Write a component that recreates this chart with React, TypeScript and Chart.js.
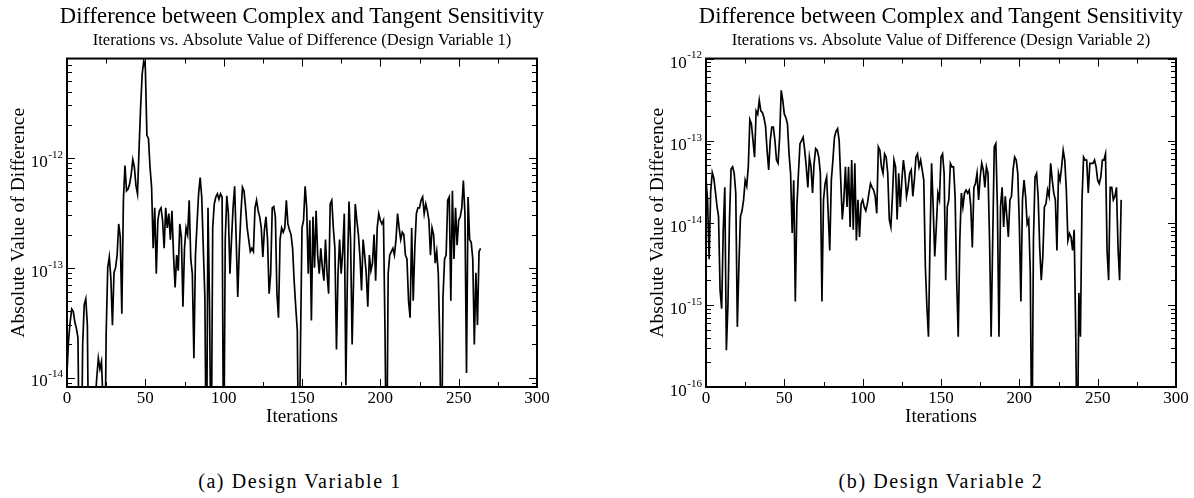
import React, { useEffect, useRef } from "react";
import { Chart, registerables } from "chart.js";

Chart.register(...registerables);

const TITLE = "Difference between Complex and Tangent Sensitivity";
const SUBTITLE_1 = "Iterations vs. Absolute Value of Difference (Design Variable 1)";
const SUBTITLE_2 = "Iterations vs. Absolute Value of Difference (Design Variable 2)";
const X_TITLE = "Iterations";
const Y_TITLE = "Absolute Value of Difference";
const CAPTION_1 = "(a) Design Variable 1";
const CAPTION_2 = "(b) Design Variable 2";

const xMajorTicks = [0, 50, 100, 150, 200, 250, 300];
const xMinorTicks = [25, 75, 125, 175, 225, 275];

const yDecades1 = [1e-14, 1e-13, 1e-12];
const yExponents1 = ["-14", "-13", "-12"];
const yRange1 = [8.2e-15, 8.0e-12];

const yDecades2 = [1e-16, 1e-15, 1e-14, 1e-13, 1e-12];
const yExponents2 = ["-16", "-15", "-14", "-13", "-12"];
const yRange2 = [1e-16, 1e-12];

// Design variable 1: |complex - tangent| per iteration
const dv1 = [
  1.1e-14, 2.2e-14, 3.2e-14, 4.2e-14, 4.0e-14, 3.2e-14, 2.8e-14, 2.3e-14, 1e-15, 1e-15,
  2.0e-14, 4.6e-14, 5.2e-14, 3.0e-14, 1e-15, 1e-15, 1e-15, 1e-15, 6e-15, 1.0e-14,
  1.5e-14, 1.2e-14, 1.4e-14, 6e-15, 1e-15, 2.5e-14, 1.0e-13, 1.25e-13, 8.0e-14, 3.0e-14,
  9.0e-14, 1.0e-13, 1.3e-13, 2.5e-13, 1.9e-13, 3.8e-14, 4.1e-13, 8.5e-13, 5.0e-13, 5.2e-13,
  5.8e-13, 7.1e-13, 9.6e-13, 8.2e-13, 5.6e-13, 4.7e-13, 1.2e-12, 2.9e-12, 5.8e-12, 7.6e-12,
  6.6e-12, 1.6e-12, 1.5e-12, 8.2e-13, 5.4e-13, 1.5e-13, 3.5e-13, 8.8e-14, 2.7e-13, 3.3e-13,
  3.5e-13, 2.7e-13, 1.5e-13, 3.5e-13, 2.3e-13, 3.1e-13, 1.8e-13, 3.3e-13, 1.3e-13, 6.6e-14,
  1.3e-13, 9.4e-14, 2.5e-13, 1.9e-13, 4.4e-14, 1.5e-13, 2.3e-13, 2.0e-13, 4.1e-13, 1.2e-13,
  8.8e-14, 1.5e-14, 1.3e-13, 2.5e-13, 4.7e-13, 6.6e-13, 4.4e-13, 1.5e-13, 5.4e-14, 1e-15,
  3.5e-13, 4.4e-14, 1e-15, 2.3e-13, 3.8e-13, 4.4e-13, 4.7e-13, 4.2e-13, 4.7e-13, 4.4e-13,
  1e-15, 1.8e-13, 4.5e-13, 3.1e-13, 8.8e-14, 1.8e-13, 3.5e-13, 5.5e-13, 1.8e-13, 5.4e-14,
  1.5e-13, 3.1e-13, 5.4e-13, 5.0e-13, 3.5e-13, 2.3e-13, 1.8e-13, 1.4e-13, 1.5e-13, 1.4e-13,
  3.5e-13, 4.1e-13, 3.3e-13, 2.9e-13, 2.3e-13, 1.25e-13, 2.2e-13, 2.9e-13, 1.8e-13, 5.8e-14,
  8.8e-14, 3.5e-13, 3.6e-13, 2.9e-13, 5.8e-14, 3.5e-14, 1.8e-13, 2.3e-13, 2.1e-13, 2.3e-13,
  4.1e-13, 2.5e-13, 2.2e-13, 2.0e-13, 1.5e-13, 7.5e-14, 4.4e-14, 2.7e-14, 1e-15, 1.8e-14,
  2.3e-13, 2.7e-13, 5.5e-13, 3.5e-13, 8.8e-14, 2.7e-13, 3.3e-14, 2.9e-13, 1.0e-13, 3.3e-13,
  1.3e-13, 8.8e-14, 1.5e-13, 1.0e-13, 7.6e-14, 1.8e-13, 8.8e-14, 5.8e-14, 3.8e-13, 4.1e-13,
  2.3e-13, 1.5e-13, 1.8e-14, 8.8e-14, 1.8e-13, 8.8e-14, 1.4e-13, 3.1e-13, 8.5e-15, 8.8e-14,
  4.0e-13, 1.8e-13, 2.0e-14, 8.8e-14, 3.8e-13, 2.7e-13, 2.0e-13, 1.25e-13, 6.2e-14, 1.8e-13,
  1.3e-13, 8.8e-14, 4.4e-14, 1.3e-13, 9.4e-14, 1.1e-13, 2.0e-13, 7.6e-14, 2.3e-13, 3.1e-13,
  2.7e-13, 2.5e-13, 2.7e-13, 2.5e-14, 1e-15, 8.8e-14, 1.3e-13, 1.4e-13, 1.5e-13, 1.3e-13,
  1.8e-13, 3.1e-13, 2.3e-13, 1.8e-13, 2.1e-13, 2.0e-13, 1.3e-13, 1.2e-13, 5.0e-14, 3.5e-14,
  2.3e-13, 5.0e-14, 1.5e-13, 3.1e-13, 3.5e-13, 3.5e-13, 4.1e-13, 4.4e-13, 3.1e-13, 3.8e-13,
  3.3e-13, 2.7e-13, 1.3e-13, 2.3e-13, 2.0e-13, 1.1e-13, 1.4e-13, 8.8e-14, 2.0e-14, 1e-15,
  5.4e-14, 1.2e-13, 1.3e-13, 4.1e-13, 4.4e-13, 5.0e-14, 5.0e-13, 1.2e-13, 3.5e-13, 1.6e-13,
  2.7e-13, 2.9e-13, 3.5e-13, 6.2e-13, 3.1e-13, 1.1e-14, 4.4e-13, 1.8e-13, 1.7e-13, 1.2e-13,
  2.0e-14, 9.0e-14, 3.0e-14, 1.4e-13, 1.5e-13,
];

// Design variable 2: |complex - tangent| per iteration
const dv2 = [
  3.4e-14, 1.9e-14, 3.6e-15, 2.4e-14, 4.1e-14, 3.5e-14, 2.4e-14, 1.6e-14, 1.2e-14, 1.5e-15,
  9e-16, 8e-15, 2.7e-14, 2.8e-16, 1.0e-15, 1.1e-14, 4.5e-14, 4.8e-14, 4.0e-14, 2.3e-14,
  5.4e-16, 3.0e-15, 1.2e-14, 1.4e-14, 1.9e-14, 3.3e-14, 2.8e-14, 4.8e-14, 1.8e-13, 1.6e-13,
  1.0e-13, 6.3e-14, 2.3e-13, 2.1e-13, 3.1e-13, 2.3e-13, 2.2e-13, 1.9e-13, 1.5e-13, 7.6e-14,
  4.4e-14, 1.0e-13, 1.46e-13, 1.46e-13, 1.0e-13, 5.8e-14, 5.3e-14, 1.1e-13, 4.1e-13, 3.1e-13,
  2.1e-13, 1.9e-13, 1.6e-13, 6.9e-14, 4.0e-14, 7.5e-15, 3.3e-14, 1.1e-15, 1.56e-14, 4.0e-14,
  9.2e-14, 1.0e-13, 1.1e-13, 7.6e-14, 4.8e-14, 2.7e-14, 6.3e-14, 4.8e-14, 2.3e-14, 5.3e-14,
  8.0e-14, 7.6e-14, 6.3e-14, 4.0e-14, 1.1e-15, 1.9e-14, 3.0e-14, 3.6e-14, 1.3e-14, 4.6e-15,
  3.3e-14, 5.8e-14, 1.1e-13, 1.3e-13, 1.4e-13, 1.0e-13, 3.3e-14, 1.1e-14, 1.9e-14, 4.8e-14,
  1.56e-14, 4.8e-14, 8.9e-15, 5.8e-14, 8.2e-15, 5.3e-14, 6.1e-15, 1.9e-14, 6.7e-15, 1.7e-14,
  1.9e-14, 1.56e-14, 1.4e-14, 1.7e-14, 2.3e-14, 3.0e-14, 2.7e-14, 2.5e-14, 2.1e-14, 1.3e-14,
  8.4e-14, 7.6e-14, 4.8e-14, 4.0e-14, 6.9e-14, 6.3e-14, 4.0e-14, 1.1e-14, 8.9e-15, 2.1e-14,
  5.8e-14, 4.8e-14, 1.1e-14, 4.0e-14, 1.56e-14, 3.3e-14, 5.8e-14, 4.0e-14, 2.1e-14, 2.7e-14,
  4.0e-14, 4.4e-14, 2.1e-14, 3.3e-14, 6.3e-14, 6.9e-14, 4.8e-14, 5.8e-14, 4.4e-14, 3.3e-14,
  3.0e-15, 9.5e-16, 4.1e-16, 6.1e-15, 5.3e-14, 1.56e-14, 3.9e-15, 8.9e-15, 2.3e-14, 1.9e-14,
  6.3e-14, 6.9e-14, 4.0e-14, 2.0e-15, 1.56e-14, 1.9e-14, 5.3e-14, 4.8e-14, 4.8e-14, 2.1e-14,
  2.0e-15, 4.1e-16, 6.1e-15, 2.3e-14, 1.56e-14, 2.3e-14, 2.5e-14, 2.3e-14, 2.5e-14, 1.6e-14,
  5.0e-15, 2.7e-14, 3.0e-14, 4.0e-14, 1.9e-14, 3.6e-14, 5.3e-14, 4.4e-14, 2.7e-14, 4.8e-14,
  4.0e-14, 6.1e-15, 4.1e-16, 6.1e-15, 8.4e-14, 9.2e-14, 1.56e-14, 4.1e-16, 1.56e-14, 2.7e-14,
  8.9e-15, 2.1e-14, 1.2e-14, 6.7e-15, 1.9e-14, 2.1e-14, 4.4e-14, 6.3e-14, 5.8e-14, 4.0e-14,
  9.7e-15, 1.1e-15, 1.9e-14, 3.3e-14, 2.1e-14, 9.7e-15, 1.1e-14, 2.4e-15, 1e-17, 6.1e-15,
  3.6e-14, 4.0e-14, 2.1e-14, 5.0e-15, 2.0e-15, 3.9e-15, 1.56e-14, 1.7e-14, 2.5e-14, 2.1e-14,
  5.3e-14, 3.3e-14, 2.3e-14, 1.9e-14, 4.6e-15, 4.0e-14, 3.3e-14, 4.8e-14, 7.6e-14, 5.8e-14,
  2.5e-14, 6.1e-15, 7.4e-15, 6.7e-15, 4.6e-15, 8.2e-15, 4.5e-16, 1e-17, 1.4e-15, 4.1e-16,
  1.9e-14, 6.3e-14, 5.8e-14, 5.8e-14, 2.3e-14, 5.3e-14, 5.3e-14, 5.3e-14, 5.8e-14, 4.8e-14,
  3.3e-14, 3.0e-14, 3.6e-14, 5.8e-14, 5.8e-14, 6.9e-14, 4.6e-15, 2.0e-15, 2.7e-14, 2.7e-14,
  1.9e-14, 2.1e-14, 2.7e-14, 5.0e-15, 2.0e-15, 1.9e-14,
];

const iterations1 = dv1.map((_, i) => i);
const iterations2 = dv2.map((_, i) => i);

const SERIF = '"Liberation Serif", "Times New Roman", serif';

const framePlugin = {
  id: "frame",
  afterDraw(chart: any, _args: any, opts: any) {
    const { ctx, chartArea } = chart;
    const { left, right, top, bottom } = chartArea;
    const xs = chart.scales.x;
    const ys = chart.scales.y;
    ctx.save();
    ctx.strokeStyle = "#000";
    ctx.fillStyle = "#000";
    ctx.lineWidth = 1;
    ctx.beginPath();
    const seg = (x1: number, y1: number, x2: number, y2: number) => {
      ctx.moveTo(x1, y1);
      ctx.lineTo(x2, y2);
    };
    for (const v of xMajorTicks) {
      const p = Math.round(xs.getPixelForValue(v)) + 0.5;
      seg(p, bottom, p, bottom - 8);
      seg(p, top, p, top + 8);
    }
    for (const v of xMinorTicks) {
      const p = Math.round(xs.getPixelForValue(v)) + 0.5;
      seg(p, bottom, p, bottom - 5);
      seg(p, top, p, top + 5);
    }
    for (const v of opts.decades) {
      const p = Math.round(ys.getPixelForValue(v)) + 0.5;
      seg(left, p, left + 8, p);
      seg(right, p, right - 8, p);
    }
    const lo = Math.floor(Math.log10(ys.min));
    const hi = Math.ceil(Math.log10(ys.max));
    for (let e = lo; e < hi; e++) {
      for (let k = 2; k <= 9; k++) {
        const v = k * Math.pow(10, e);
        if (v <= ys.min * 1.0001 || v >= ys.max * 0.9999) continue;
        const p = Math.round(ys.getPixelForValue(v)) + 0.5;
        seg(left, p, left + 5, p);
        seg(right, p, right - 5, p);
      }
    }
    ctx.stroke();
    ctx.lineWidth = 2;
    ctx.strokeRect(left, top, right - left, bottom - top);

    ctx.textBaseline = "middle";
    ctx.textAlign = "center";
    ctx.font = `17px ${SERIF}`;
    for (const v of xMajorTicks) {
      ctx.fillText(String(v), xs.getPixelForValue(v), bottom + 12);
    }
    opts.decades.forEach((v: number, idx: number) => {
      const p = ys.getPixelForValue(v);
      const exp = opts.exponents[idx];
      ctx.textAlign = "right";
      ctx.font = `11px ${SERIF}`;
      const w = ctx.measureText(exp).width;
      ctx.fillText(exp, left - 4, p - 3);
      ctx.font = `17px ${SERIF}`;
      ctx.fillText("10", left - 4 - w - 0.5, p + 4.5);
    });
    ctx.restore();
  },
};

function makeConfig(labels: number[], values: number[], subtitle: string, range: number[], decades: number[], exponents: string[]) {
  return {
    type: "line" as const,
    data: {
      labels,
      datasets: [
        {
          data: values,
          borderColor: "#000",
          borderWidth: 1.7,
          pointRadius: 0,
          tension: 0,
          fill: false,
          clip: 0,
        },
      ],
    },
    options: {
      animation: false as const,
      responsive: false,
      maintainAspectRatio: false,
      layout: { padding: 0 },
      events: [],
      plugins: {
        legend: { display: false },
        tooltip: { enabled: false },
        title: {
          display: true,
          text: TITLE,
          color: "#000",
          font: { family: SERIF, size: 22.6, weight: "normal" },
          padding: { top: 4, bottom: 0 },
        },
        subtitle: {
          display: true,
          text: subtitle,
          color: "#000",
          font: { family: SERIF, size: 16.6, weight: "normal" },
          padding: { top: 0, bottom: 7.5 },
        },
        frame: { decades, exponents },
      },
      scales: {
        x: {
          type: "linear",
          min: 0,
          max: 300,
          grid: { display: false },
          border: { display: false },
          ticks: { display: false },
          title: {
            display: true,
            text: X_TITLE,
            color: "#000",
            font: { family: SERIF, size: 19, weight: "normal" },
            padding: { top: 0, bottom: 2 },
          },
          afterFit: (s: any) => {
            s.height = 43;
          },
        },
        y: {
          type: "logarithmic",
          min: range[0],
          max: range[1],
          grid: { display: false },
          border: { display: false },
          ticks: { display: false },
          title: {
            display: true,
            text: Y_TITLE,
            color: "#000",
            font: { family: SERIF, size: 19.6, weight: "normal" },
            padding: { top: 7.2, bottom: 0 },
          },
          afterFit: (s: any) => {
            s.width = 67;
          },
        },
        yr: {
          type: "logarithmic",
          position: "right",
          display: true,
          min: range[0],
          max: range[1],
          grid: { display: false },
          border: { display: false },
          ticks: { display: false },
          afterFit: (s: any) => {
            s.width = 67;
          },
        },
      },
    },
    plugins: [framePlugin],
  };
}

function ChartCanvas(props: { left: number; cfg: any }) {
  const ref = useRef<HTMLCanvasElement | null>(null);
  useEffect(() => {
    if (!ref.current) return;
    const chart = new Chart(ref.current, props.cfg);
    return () => chart.destroy();
  }, []);
  return (
    <canvas
      ref={ref}
      width={604}
      height={430}
      style={{ position: "absolute", left: props.left, top: 0, width: 604, height: 430 }}
    />
  );
}

export default function App() {
  const cfg1 = makeConfig(iterations1, dv1, SUBTITLE_1, yRange1, yDecades1, yExponents1);
  const cfg2 = makeConfig(iterations2, dv2, SUBTITLE_2, yRange2, yDecades2, yExponents2);
  const captionStyle = (center: number): React.CSSProperties => ({
    position: "absolute",
    left: center - 160,
    width: 320,
    top: 471,
    textAlign: "center",
    fontFamily: SERIF,
    fontSize: 20,
    lineHeight: "20px",
    letterSpacing: "1.6px",
    color: "#000",
    whiteSpace: "nowrap",
  });
  return (
    <div
      style={{
        position: "absolute",
        left: 0,
        top: 0,
        width: 1194,
        height: 498,
        overflow: "hidden",
        background: "#fff",
      }}
    >
      <ChartCanvas left={0} cfg={cfg1} />
      <ChartCanvas left={639} cfg={cfg2} />
      <div style={captionStyle(300)}>{CAPTION_1}</div>
      <div style={captionStyle(941)}>{CAPTION_2}</div>
    </div>
  );
}
